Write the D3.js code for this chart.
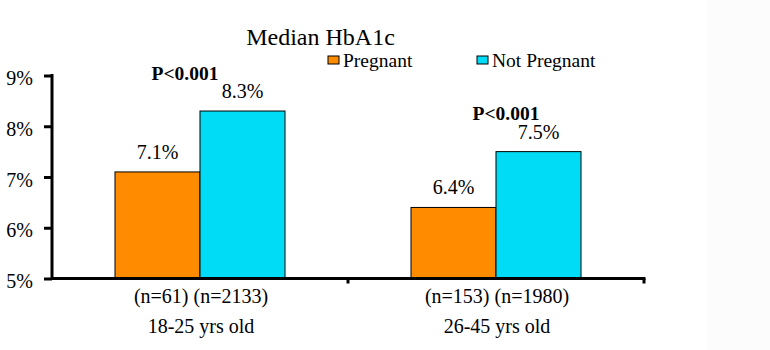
<!DOCTYPE html>
<html>
<head>
<meta charset="utf-8">
<script src="https://cdn.jsdelivr.net/npm/d3@7"></script>
<style>
  body { margin: 0; background: #fff; }
  #chart { width: 770px; height: 350px; }
</style>
</head>
<body>
<div id="chart"></div>
<script>
// data
let groups = ["18-25", "26-45"];
let groupLines = [["(n=61) (n=2133)", "18-25 yrs old"], ["(n=153) (n=1980)", "26-45 yrs old"]];
let seriesNames = ["Pregnant", "Not Pregnant"];
let pregnant = [7.1, 6.4];
let notPregnant = [8.3, 7.5];
let pValues = ["P<0.001", "P<0.001"];
let yTicks = [5, 6, 7, 8, 9];

let colors = { "Pregnant": "#ff8c00", "Not Pregnant": "#00dcf5" };
let serif = "'Liberation Serif', 'Times New Roman', serif";

let chartW = 770, chartH = 350;
let plotLeft = 52, plotRight = 644, plotTop = 75.5, plotBottom = 278.5;
let pShift = [-15, 10];

let svg = d3.select('#chart').append('svg')
    .attr('width', chartW)
    .attr('height', chartH)
    .style('font-family', serif);

// light strip on the right edge
svg.append('rect')
    .attr('x', 707).attr('y', 0)
    .attr('width', chartW - 707).attr('height', chartH)
    .attr('fill', '#fcfcfc');

let x0 = d3.scaleBand().domain(groups).range([plotLeft, plotRight]);
let x1 = d3.scaleBand().domain(seriesNames).range([63, 233]);
let y = d3.scaleLinear().domain([5, 9]).range([plotBottom, plotTop]);

let rows = groups.map((g, i) => ({
    group: g,
    values: [
        { key: "Pregnant", value: pregnant[i] },
        { key: "Not Pregnant", value: notPregnant[i] }
    ],
    p: pValues[i],
    shift: pShift[i],
    lines: groupLines[i]
}));

// bars
let gGroups = svg.selectAll('.grp').data(rows).enter().append('g')
    .attr('class', 'grp')
    .attr('transform', d => `translate(${x0(d.group)},0)`);

gGroups.selectAll('rect').data(d => d.values).enter().append('rect')
    .attr('x', d => x1(d.key))
    .attr('y', d => y(d.value))
    .attr('width', x1.bandwidth())
    .attr('height', d => y(5) - y(d.value))
    .attr('fill', d => colors[d.key])
    .attr('stroke', '#000')
    .attr('stroke-width', 1);

gGroups.selectAll('.val').data(d => d.values).enter().append('text')
    .attr('class', 'val')
    .attr('x', d => x1(d.key) + x1.bandwidth() / 2)
    .attr('y', d => y(d.value) - 13)
    .attr('text-anchor', 'middle')
    .style('font-family', serif)
    .style('font-size', '20px')
    .text(d => d.value.toFixed(1) + '%');

// p-values above the taller bar
gGroups.append('text')
    .attr('x', d => x1("Not Pregnant") + d.shift)
    .attr('y', d => y(d3.max(d.values, v => v.value)) - 31.5)
    .attr('text-anchor', 'middle')
    .style('font-family', serif)
    .style('font-size', '19.5px')
    .style('font-weight', 'bold')
    .text(d => d.p);

// category labels
gGroups.each(function (d) {
    let t = d3.select(this).append('text')
        .attr('text-anchor', 'middle')
        .style('font-family', serif)
        .style('font-size', '20px');
    d.lines.forEach((l, i) => {
        t.append('tspan')
            .attr('x', x0.bandwidth() / 2 + 1)
            .attr('y', 303 + i * 30)
            .text(l);
    });
});

// y axis
let yAxis = svg.append('g')
    .attr('transform', `translate(${plotLeft},0)`)
    .call(d3.axisLeft(y).tickValues(yTicks).tickSize(8).tickPadding(11).tickFormat(d => d + '%'));
yAxis.attr('font-family', null).attr('font-size', null);
yAxis.select('.domain').attr('stroke-width', 3).attr('d', `M0,${plotTop - 1.5}V${plotBottom + 1.5}`);
yAxis.selectAll('.tick line').attr('stroke-width', 3);
yAxis.selectAll('.tick text')
    .attr('dy', '0.45em')
    .style('font-family', serif)
    .style('font-size', '20px')
    .attr('fill', '#000');

// x axis
let xAxis = svg.append('g')
    .attr('transform', `translate(0,${plotBottom})`);
xAxis.append('line')
    .attr('x1', plotLeft).attr('x2', plotRight + 1.5)
    .attr('stroke', '#000').attr('stroke-width', 3);
xAxis.selectAll('.xt').data(groups.slice(1).concat(['end'])).enter().append('line')
    .attr('x1', (d, i) => i < groups.length - 1 ? x0(d) : plotRight)
    .attr('x2', (d, i) => i < groups.length - 1 ? x0(d) : plotRight)
    .attr('y1', 0).attr('y2', 5)
    .attr('stroke', '#000').attr('stroke-width', 3);

// title
svg.append('text')
    .attr('x', 320.5).attr('y', 45)
    .attr('text-anchor', 'middle')
    .style('font-family', serif)
    .style('font-size', '24px')
    .text('Median HbA1c');

// legend
let legX = [328, 477];
let leg = svg.selectAll('.leg').data(seriesNames).enter().append('g')
    .attr('class', 'leg')
    .attr('transform', (d, i) => `translate(${legX[i]},56)`);
leg.append('rect')
    .attr('width', 11).attr('height', 8)
    .attr('fill', d => colors[d])
    .attr('stroke', '#000').attr('stroke-width', 1);
leg.append('text')
    .attr('x', 15).attr('y', 10.7)
    .style('font-family', serif)
    .style('font-size', '19.5px')
    .text(d => d);
</script>
</body>
</html>
